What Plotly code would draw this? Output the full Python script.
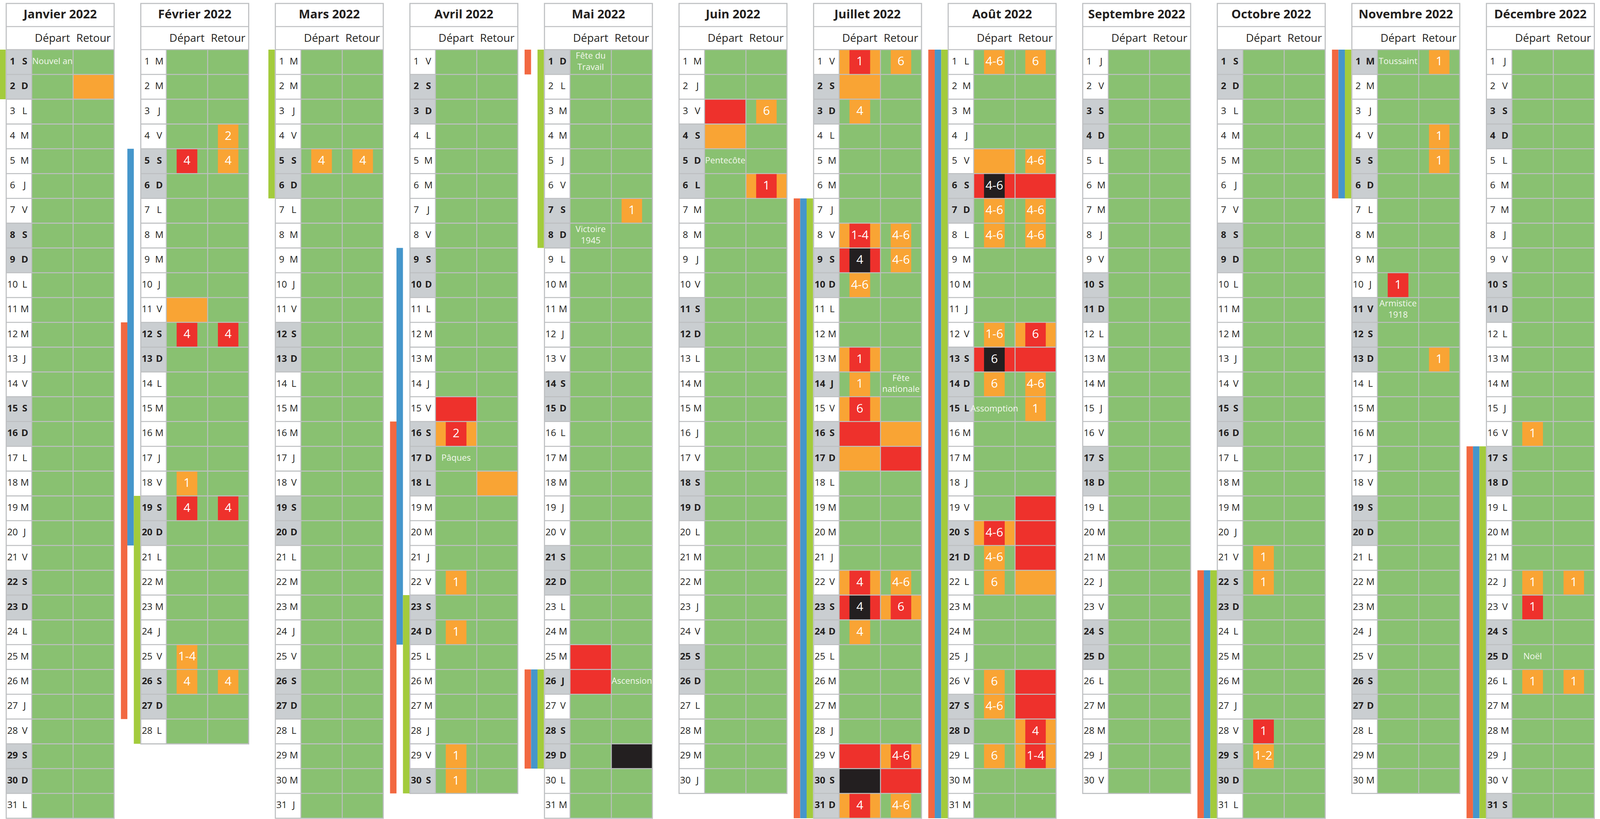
import calendar
import plotly.graph_objects as go

# ---------------------------------------------------------------- data
YEAR = 2022
MONTH_TITLES = ["Janvier 2022", "Février 2022", "Mars 2022", "Avril 2022",
                "Mai 2022", "Juin 2022", "Juillet 2022", "Août 2022",
                "Septembre 2022", "Octobre 2022", "Novembre 2022", "Décembre 2022"]
DAY_LETTERS = ["L", "M", "M", "J", "V", "S", "D"]
COLUMN_HEADERS = ["Départ", "Retour"]

# public holidays (shown grey / bold like week-ends)
PUBLIC_HOLIDAYS = [(1, 1), (4, 18), (5, 1), (5, 8), (5, 26), (6, 6),
                   (7, 14), (8, 15), (11, 1), (11, 11), (12, 25)]

# holiday names written in the cells: (month, day, column, text)
HOLIDAY_LABELS = [(1, 1, "D", "Nouvel an"), (4, 17, "D", "Pâques"),
                  (5, 1, "D", "Fête du<br>Travail"), (5, 8, "D", "Victoire<br>1945"),
                  (5, 26, "R", "Ascension"), (6, 5, "D", "Pentecôte"),
                  (7, 14, "R", "Fête<br>nationale"), (8, 15, "D", "Assomption"),
                  (11, 1, "D", "Toussaint"), (11, 11, "D", "Armistice<br>1918"),
                  (12, 25, "D", "Noël")]

# traffic forecast: (month, day, column, whole-cell level, regional level, regions)
# levels: g = vert, o = orange, r = rouge, k = noir
TRAFFIC = [
    (1, 2, "R", "o", None, ""),
    (2, 4, "R", "g", "o", "2"),
    (2, 5, "D", "g", "r", "4"), (2, 5, "R", "g", "o", "4"),
    (2, 11, "D", "o", None, ""),
    (2, 12, "D", "g", "r", "4"), (2, 12, "R", "g", "r", "4"),
    (2, 18, "D", "g", "o", "1"),
    (2, 19, "D", "g", "r", "4"), (2, 19, "R", "g", "r", "4"),
    (2, 25, "D", "g", "o", "1-4"),
    (2, 26, "D", "g", "o", "4"), (2, 26, "R", "g", "o", "4"),
    (3, 5, "D", "g", "o", "4"), (3, 5, "R", "g", "o", "4"),
    (4, 15, "D", "r", None, ""),
    (4, 16, "D", "o", "r", "2"),
    (4, 18, "R", "o", None, ""),
    (4, 22, "D", "g", "o", "1"),
    (4, 24, "D", "g", "o", "1"),
    (4, 29, "D", "g", "o", "1"),
    (4, 30, "D", "g", "o", "1"),
    (5, 7, "R", "g", "o", "1"),
    (5, 25, "D", "r", None, ""),
    (5, 26, "D", "r", None, ""),
    (5, 29, "R", "k", None, ""),
    (6, 3, "D", "r", None, ""), (6, 3, "R", "g", "o", "6"),
    (6, 4, "D", "o", None, ""),
    (6, 6, "R", "o", "r", "1"),
    (7, 1, "D", "o", "r", "1"), (7, 1, "R", "g", "o", "6"),
    (7, 2, "D", "o", None, ""),
    (7, 3, "D", "g", "o", "4"),
    (7, 8, "D", "o", "r", "1-4"), (7, 8, "R", "g", "o", "4-6"),
    (7, 9, "D", "r", "k", "4"), (7, 9, "R", "g", "o", "4-6"),
    (7, 10, "D", "g", "o", "4-6"),
    (7, 13, "D", "o", "r", "1"),
    (7, 14, "D", "g", "o", "1"),
    (7, 15, "D", "o", "r", "6"),
    (7, 16, "D", "r", None, ""), (7, 16, "R", "o", None, ""),
    (7, 17, "D", "o", None, ""), (7, 17, "R", "r", None, ""),
    (7, 22, "D", "o", "r", "4"), (7, 22, "R", "g", "o", "4-6"),
    (7, 23, "D", "r", "k", "4"), (7, 23, "R", "o", "r", "6"),
    (7, 24, "D", "g", "o", "4"),
    (7, 29, "D", "r", None, ""), (7, 29, "R", "o", "r", "4-6"),
    (7, 30, "D", "k", None, ""), (7, 30, "R", "r", None, ""),
    (7, 31, "D", "o", "r", "4"), (7, 31, "R", "g", "o", "4-6"),
    (8, 1, "D", "g", "o", "4-6"), (8, 1, "R", "g", "o", "6"),
    (8, 5, "D", "o", None, ""), (8, 5, "R", "g", "o", "4-6"),
    (8, 6, "D", "r", "k", "4-6"), (8, 6, "R", "r", None, ""),
    (8, 7, "D", "g", "o", "4-6"), (8, 7, "R", "g", "o", "4-6"),
    (8, 8, "D", "g", "o", "4-6"), (8, 8, "R", "g", "o", "4-6"),
    (8, 12, "D", "g", "o", "1-6"), (8, 12, "R", "o", "r", "6"),
    (8, 13, "D", "r", "k", "6"), (8, 13, "R", "r", None, ""),
    (8, 14, "D", "g", "o", "6"), (8, 14, "R", "g", "o", "4-6"),
    (8, 15, "R", "g", "o", "1"),
    (8, 19, "R", "r", None, ""),
    (8, 20, "D", "o", "r", "4-6"), (8, 20, "R", "r", None, ""),
    (8, 21, "D", "g", "o", "4-6"), (8, 21, "R", "r", None, ""),
    (8, 22, "D", "g", "o", "6"), (8, 22, "R", "o", None, ""),
    (8, 26, "D", "g", "o", "6"), (8, 26, "R", "r", None, ""),
    (8, 27, "D", "g", "o", "4-6"), (8, 27, "R", "r", None, ""),
    (8, 28, "R", "o", "r", "4"),
    (8, 29, "D", "g", "o", "6"), (8, 29, "R", "o", "r", "1-4"),
    (10, 21, "D", "g", "o", "1"),
    (10, 22, "D", "g", "o", "1"),
    (10, 28, "D", "g", "r", "1"),
    (10, 29, "D", "g", "o", "1-2"),
    (11, 1, "R", "g", "o", "1"),
    (11, 4, "R", "g", "o", "1"),
    (11, 5, "R", "g", "o", "1"),
    (11, 10, "D", "g", "r", "1"),
    (11, 13, "R", "g", "o", "1"),
    (12, 16, "D", "g", "o", "1"),
    (12, 22, "D", "g", "o", "1"), (12, 22, "R", "g", "o", "1"),
    (12, 23, "D", "g", "r", "1"),
    (12, 26, "D", "g", "o", "1"), (12, 26, "R", "g", "o", "1"),
]

# school holidays per zone: (zone, month, first day, last day)
SCHOOL_HOLIDAYS = [
    ("A", 1, 1, 2), ("B", 1, 1, 2), ("C", 1, 1, 2),
    ("B", 2, 5, 20), ("A", 2, 12, 27), ("C", 2, 19, 28),
    ("C", 3, 1, 6),
    ("B", 4, 9, 24), ("A", 4, 16, 30), ("C", 4, 23, 30),
    ("A", 5, 1, 1), ("C", 5, 1, 8),
    ("A", 5, 26, 29), ("B", 5, 26, 29), ("C", 5, 26, 29),
    ("A", 7, 7, 31), ("B", 7, 7, 31), ("C", 7, 7, 31),
    ("A", 8, 1, 31), ("B", 8, 1, 31), ("C", 8, 1, 31),
    ("A", 10, 22, 31), ("B", 10, 22, 31), ("C", 10, 22, 31),
    ("A", 11, 1, 6), ("B", 11, 1, 6), ("C", 11, 1, 6),
    ("A", 12, 17, 31), ("B", 12, 17, 31), ("C", 12, 17, 31),
]

# ---------------------------------------------------------------- style
LEVEL_COLORS = {"g": "#89C171", "o": "#F9A434", "r": "#EE312C", "k": "#231F20"}
ZONE_COLORS = {"A": "#F26841", "B": "#4596CB", "C": "#A3CB3C"}
ZONE_ORDER = ["A", "B", "C"]
GRID_COLOR = "#BDBFC1"
WEEKEND_COLOR = "#CACED1"
TEXT_DARK = "#231F20"
FONT = "Open Sans"

FIG_W, FIG_H = 4334, 2096
TABLE_X0 = 17.0
TABLE_STEP = 364.5
COL_W = [69.0, 112.0, 111.0]
TITLE_Y0, HEAD_Y0, BODY_Y0 = 9.0, 68.0, 127.0
ROW_H = 63.45
G = 1.3           # half grid line
FRAME = 1.6       # outer frame beyond cell grid
BAR_W = 17.5
BAR_GAP = 1.5
INNER_FRAC = 0.5

# ---------------------------------------------------------------- build
layers = {}
order = ["zA", "zB", "zC", "frame", "white", "weekend",
         "bg_g", "bg_o", "bg_r", "bg_k", "in_o", "in_r", "in_k"]
layer_color = {"zA": ZONE_COLORS["A"], "zB": ZONE_COLORS["B"], "zC": ZONE_COLORS["C"],
               "frame": GRID_COLOR, "white": "#FFFFFF", "weekend": WEEKEND_COLOR}
for k, c in LEVEL_COLORS.items():
    layer_color["bg_" + k] = c
    layer_color["in_" + k] = c


def add_rect(key, x0, x1, y0, y1):
    xs, ys = layers.setdefault(key, ([], []))
    xs.extend([x0, x1, x1, x0, x0, None])
    ys.extend([y0, y0, y1, y1, y0, None])


def table_left(m):
    return TABLE_X0 + (m - 1) * TABLE_STEP


def col_bounds(m, col):
    L = table_left(m)
    if col == "J":
        return L, L + COL_W[0]
    if col == "D":
        return L + COL_W[0], L + COL_W[0] + COL_W[1]
    return L + COL_W[0] + COL_W[1], L + sum(COL_W)


def row_bounds(d):
    y0 = BODY_Y0 + (d - 1) * ROW_H
    return y0, y0 + ROW_H


traffic = {(m, d, c): (bg, inner, lab) for m, d, c, bg, inner, lab in TRAFFIC}
holidays = set(PUBLIC_HOLIDAYS)

txt = {"title": ([], [], []), "head": ([], [], []), "day": ([], [], []),
       "dayb": ([], [], []), "cell": ([], [], []), "hol": ([], [], [])}


def add_text(key, x, y, t):
    txt[key][0].append(x)
    txt[key][1].append(y)
    txt[key][2].append(t)


W = sum(COL_W)
for m in range(1, 13):
    L = table_left(m)
    ndays = calendar.monthrange(YEAR, m)[1]
    bottom = BODY_Y0 + ndays * ROW_H
    add_rect("frame", L - FRAME, L + W + FRAME, TITLE_Y0 - FRAME, bottom + FRAME)
    add_rect("white", L + G, L + W - G, TITLE_Y0 + G, HEAD_Y0 - G)
    add_rect("white", L + G, L + W - G, HEAD_Y0 + G, BODY_Y0 - G)
    add_text("title", L + W / 2, (TITLE_Y0 + HEAD_Y0) / 2 + 1, MONTH_TITLES[m - 1])
    for col, h in zip(["D", "R"], COLUMN_HEADERS):
        x0, x1 = col_bounds(m, col)
        add_text("head", (x0 + x1) / 2, (HEAD_Y0 + BODY_Y0) / 2 + 2, h)
    for d in range(1, ndays + 1):
        y0, y1 = row_bounds(d)
        wd = calendar.weekday(YEAR, m, d)
        grey = wd >= 5 or (m, d) in holidays
        x0, x1 = col_bounds(m, "J")
        add_rect("weekend" if grey else "white", x0 + G, x1 - G, y0 + G, y1 - G)
        key = "dayb" if grey else "day"
        ym = (y0 + y1) / 2
        add_text(key, x0 + 17, ym, str(d))
        add_text(key, x0 + 50, ym, DAY_LETTERS[wd])
        for col in ["D", "R"]:
            cx0, cx1 = col_bounds(m, col)
            bg, inner, lab = traffic.get((m, d, col), ("g", None, ""))
            add_rect("bg_" + bg, cx0 + G, cx1 - G, y0 + G, y1 - G)
            cxm = (cx0 + cx1) / 2
            if inner:
                hw = (cx1 - cx0) * INNER_FRAC / 2
                add_rect("in_" + inner, cxm - hw, cxm + hw, y0 + G, y1 - G)
            if lab:
                add_text("cell", cxm, ym + 1, lab)

for m, d, col, t in HOLIDAY_LABELS:
    cx0, cx1 = col_bounds(m, col)
    y0, y1 = row_bounds(d)
    add_text("hol", (cx0 + cx1) / 2, (y0 + y1) / 2, t)

for zone, m, first, last in SCHOOL_HOLIDAYS:
    L = table_left(m)
    i = ZONE_ORDER.index(zone)
    right = L - BAR_GAP - (2 - i) * BAR_W
    y0, _ = row_bounds(first)
    _, y1 = row_bounds(last)
    add_rect("z" + zone, right - BAR_W, right, y0, y1)

fig = go.Figure()
for key in order:
    if key not in layers:
        continue
    xs, ys = layers[key]
    c = layer_color[key]
    fig.add_trace(go.Scatter(x=xs, y=ys, mode="lines", fill="toself", fillcolor=c,
                             line=dict(width=0, color=c), hoverinfo="skip",
                             showlegend=False))

text_styles = {
    "title": dict(size=31, color=TEXT_DARK, weight="bold"),
    "head": dict(size=28, color=TEXT_DARK, weight="normal"),
    "day": dict(size=24, color=TEXT_DARK, weight="normal"),
    "dayb": dict(size=24, color=TEXT_DARK, weight="bold"),
    "cell": dict(size=31, color="#FFFFFF", weight="normal"),
    "hol": dict(size=22, color="#F4F8EF", weight="normal"),
}
for key, (xs, ys, ts) in txt.items():
    st = text_styles[key]
    fig.add_trace(go.Scatter(x=xs, y=ys, text=ts, mode="text", textposition="middle center",
                             textfont=dict(family=FONT, size=st["size"], color=st["color"],
                                           weight=st["weight"]),
                             hoverinfo="skip", showlegend=False))

fig.update_layout(width=FIG_W, height=FIG_H, margin=dict(l=0, r=0, t=0, b=0),
                  paper_bgcolor="#FFFFFF", plot_bgcolor="#FFFFFF",
                  xaxis=dict(range=[0, FIG_W], visible=False, fixedrange=True),
                  yaxis=dict(range=[FIG_H, 0], visible=False, fixedrange=True))

# make the figure fill exactly the browser viewport (no body margin / scrollbars)
POST_SCRIPT = (
    "document.documentElement.style.margin='0';"
    "document.documentElement.style.overflow='hidden';"
    "document.body.style.margin='0';"
    "document.body.style.overflow='hidden';"
    "var gd=document.getElementById('{plot_id}');"
    "Plotly.relayout(gd,{width:window.innerWidth,height:window.innerHeight});"
)
fig.write_html("out.html", post_script=POST_SCRIPT, config={"displayModeBar": False})
